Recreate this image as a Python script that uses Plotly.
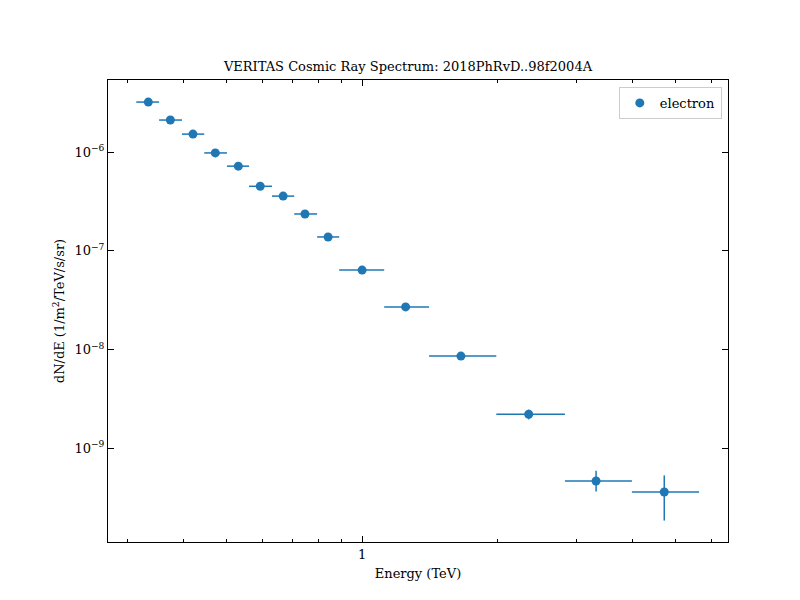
import plotly.graph_objects as go

# electron spectrum points
energy = [0.334, 0.374, 0.42, 0.471, 0.53, 0.593, 0.667, 0.746, 0.84, 1.0,
          1.25, 1.66, 2.35, 3.32, 4.71]
bin_edges = [0.314, 0.353, 0.397, 0.445, 0.5, 0.56, 0.63, 0.706, 0.794, 0.889,
             1.12, 1.41, 1.99, 2.83, 3.99, 5.63]
flux = [3.21e-6, 2.11e-6, 1.52e-6, 9.8e-7, 7.2e-7, 4.5e-7, 3.58e-7, 2.36e-7,
        1.38e-7, 6.37e-8, 2.7e-8, 8.57e-9, 2.21e-9, 4.65e-10, 3.6e-10]
flux_err_hi = [5e-8, 4e-8, 3e-8, 2e-8, 1.5e-8, 1e-8, 8e-9, 6e-9,
               4e-9, 2e-9, 1e-9, 5e-10, 2.5e-10, 1.25e-10, 1.7e-10]
flux_err_lo = [5e-8, 4e-8, 3e-8, 2e-8, 1.5e-8, 1e-8, 8e-9, 6e-9,
               4e-9, 2e-9, 1e-9, 5e-10, 2.5e-10, 1.0e-10, 1.75e-10]

x_lo = [e - lo for e, lo in zip(energy, bin_edges[:-1])]
x_hi = [hi - e for e, hi in zip(energy, bin_edges[1:])]

blue = '#1f77b4'
fig = go.Figure(go.Scatter(
    x=energy, y=flux, mode='markers', name='electron',
    marker=dict(color=blue, size=9),
    error_x=dict(type='data', symmetric=False, array=x_hi, arrayminus=x_lo,
                 color=blue, thickness=1.5, width=0),
    error_y=dict(type='data', symmetric=False, array=flux_err_hi, arrayminus=flux_err_lo,
                 color=blue, thickness=1.5, width=0),
))

ytick_vals = [1e-9, 1e-8, 1e-7, 1e-6]
ytick_text = ['10<sup>−9</sup>', '10<sup>−8</sup>', '10<sup>−7</sup>', '10<sup>−6</sup>']

axis_style = dict(showgrid=False, showline=True, linecolor='black', linewidth=1,
                  mirror='ticks', ticks='inside', ticklen=6, tickcolor='black',
                  zeroline=False, automargin=False)
fig.update_xaxes(type='log', range=[-0.566, 0.815], tickvals=[1], ticktext=['1'],
                 minor=dict(ticks='inside', ticklen=3, tickcolor='black',
                            tickvals=[0.3, 0.4, 0.5, 0.6, 0.7, 0.8, 0.9, 2, 3, 4, 5, 6]),
                 title=dict(text='Energy (TeV)', standoff=8, font=dict(size=13)), **axis_style)
fig.update_yaxes(type='log', range=[-9.95, -5.27], tickvals=ytick_vals, ticktext=ytick_text,
                 title=dict(text='dN/dE (1/m<sup>2</sup>/TeV/s/sr)', standoff=6,
                            font=dict(size=13)), **axis_style)

fig.update_layout(
    width=800, height=600,
    margin=dict(l=100, r=80, t=72, b=66),
    paper_bgcolor='white', plot_bgcolor='white',
    font=dict(family='DejaVu Serif', size=13, color='black'),
    title=dict(text='VERITAS Cosmic Ray Spectrum: 2018PhRvD..98f2004A',
               x=0.5, xanchor='center', y=0.902, yanchor='middle', font=dict(size=13)),
    showlegend=True,
    legend=dict(x=0.99, y=0.985, xanchor='right', yanchor='top',
                bordercolor='#cccccc', borderwidth=1, bgcolor='white',
                font=dict(size=13)),
)

fig.write_html("out.html")
